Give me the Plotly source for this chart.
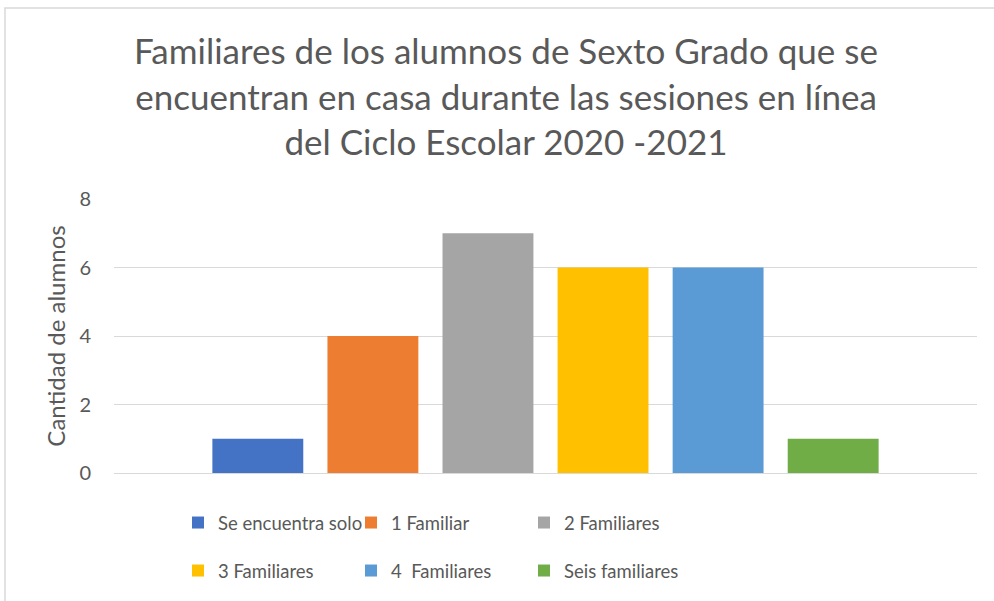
import plotly.graph_objects as go

categorias = ["Sexto Grado"]
series = ["Se encuentra solo", "1 Familiar", "2 Familiares", "3 Familiares", "4  Familiares", "Seis familiares"]
valores = [1, 4, 7, 6, 6, 1]
colores = ["#4472C4", "#ED7D31", "#A5A5A5", "#FFC000", "#5B9BD5", "#70AD47"]
yticks = [0, 2, 4, 6, 8]

W, H = 994, 601
FONT = "Lato"
GRIS = "#595959"

fig = go.Figure()
for i, (nombre, v, c) in enumerate(zip(series, valores, colores)):
    fig.add_trace(go.Bar(
        x=categorias, y=[v], name=nombre, marker=dict(color=c, line=dict(width=0)),
        legend="legend" if i < 3 else "legend2",
    ))

leg_common = dict(
    orientation="h", xref="container", yref="container",
    xanchor="left", yanchor="middle",
    font=dict(family=FONT, size=18.5, color=GRIS),
    entrywidth=128, entrywidthmode="pixels", itemwidth=30,
    bgcolor="rgba(0,0,0,0)", traceorder="normal",
)

fig.update_layout(
    width=W, height=H,
    paper_bgcolor="white", plot_bgcolor="white",
    margin=dict(l=114, r=17, t=199, b=128),
    barmode="group", bargap=0.2, bargroupgap=0.21,
    title=dict(
        text="Familiares de los alumnos de Sexto Grado que se<br>encuentran en casa durante las sesiones en línea<br>del Ciclo Escolar 2020 -2021",
        x=506 / W, xanchor="center", xref="container",
        y=1 - 64 / H, yanchor="middle", yref="container",
        font=dict(family=FONT, size=35, color=GRIS),
    ),
    xaxis=dict(showticklabels=False, showgrid=False, zeroline=False, showline=False, ticks=""),
    yaxis=dict(
        range=[0, 8], tickvals=yticks, ticks="",
        showgrid=True, gridcolor="#d9d9d9", gridwidth=1.3,
        zeroline=True, zerolinecolor="#d9d9d9", zerolinewidth=1.3,
        showline=False,
        tickfont=dict(family=FONT, size=20, color=GRIS),
        ticklabelstandoff=22,
        title=dict(text="Cantidad de alumnos", standoff=6,
                   font=dict(family=FONT, size=24, color=GRIS)),
    ),
    legend=dict(x=178 / W, y=1 - 523 / H, **leg_common),
    legend2=dict(x=178 / W, y=1 - 571 / H, **leg_common),
    showlegend=True,
)

# chart border (light gray frame, partially cut by the image edges)
fig.add_shape(type="rect", xref="paper", yref="paper",
              x0=(5 - 114) / 863, x1=(1100 - 114) / 863,
              y0=(473 - 700) / 274, y1=(473 - 8) / 274,
              line=dict(color="#d9d9d9", width=1.5), fillcolor="rgba(0,0,0,0)", layer="below")

fig.write_html("out.html", config={"displayModeBar": False},
               post_script="document.body.style.margin='0';")
